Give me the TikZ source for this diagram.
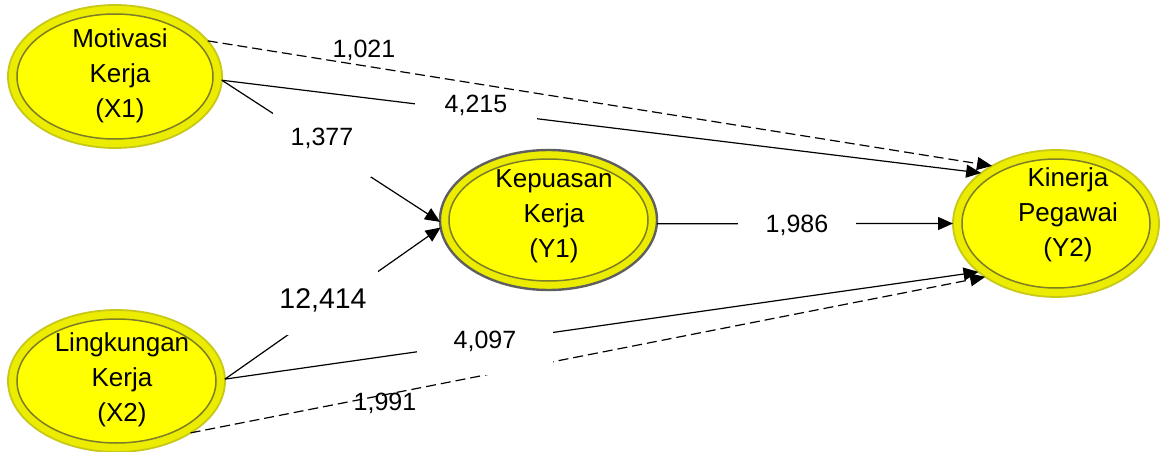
\documentclass[tikz,border=0pt]{standalone}
\usepackage{fontspec}
\setmainfont{Liberation Sans}
\usetikzlibrary{shapes.geometric,arrows.meta}

\definecolor{rimcol}{RGB}{200,200,25}
\definecolor{ringcol}{RGB}{236,236,0}
\definecolor{corecol}{RGB}{255,255,0}
\definecolor{innercol}{RGB}{125,125,40}
\definecolor{shadowcol}{RGB}{95,95,95}

\tikzset{
  outerov/.style={ellipse, draw=rimcol, line width=1.8pt, fill=ringcol,
    inner sep=0pt, outer sep=0pt},
  innerov/.style={ellipse, draw=innercol, line width=1.5pt, fill=corecol,
    inner sep=0pt, outer sep=0pt},
  nodetxt/.style={font=\fontsize{26}{35}\selectfont, align=center,
    inner sep=0pt},
  numlbl/.style={font=\fontsize{25}{30}\selectfont, anchor=base,
    inner sep=0pt},
  maskbox/.style={numlbl, fill=white},
  arr/.style={-{Triangle[length=15pt,width=13pt]}, line width=1.2pt},
  darr/.style={arr, dash pattern=on 10pt off 5pt}
}

\begin{document}
\begin{tikzpicture}[x=1pt,y=-1pt]
\useasboundingbox (0,0) rectangle (1160,452);

% latent variables: outer ring and inner face
\node[outerov, minimum width=214pt, minimum height=143pt] (x1) at (115,76.5) {};
\node[innerov, minimum width=196pt, minimum height=125pt] (x1in) at (115,76.5) {};

\node[outerov, draw=shadowcol, line width=2.4pt,
      minimum width=217pt, minimum height=140pt] (y1) at (548.5,220) {};
\node[innerov, minimum width=199pt, minimum height=122pt] (y1in) at (548.5,220) {};

\node[outerov, minimum width=206pt, minimum height=147pt] (y2) at (1056,223.5) {};
\node[innerov, minimum width=188pt, minimum height=129pt] (y2in) at (1056,223.5) {};

\node[outerov, minimum width=217pt, minimum height=142pt] (x2) at (116.5,381) {};
\node[innerov, minimum width=199pt, minimum height=124pt] (x2in) at (116.5,381) {};

% paths
\draw[arr] (x1.-2) -- (y1.181);
\draw[arr] (x2.1) -- (y1.184.5);
\draw[arr] (x1.-2) -- (y2.146);
\draw[arr] (x2.1) -- (y2.212);
\draw[darr] (x2.-35) -- (y2.217);
\draw[arr] (y1.-2) -- (y2.180);

% coefficients on white boxes
\node[maskbox, minimum width=98pt, text height=35pt, text depth=31pt] (l1377) at (322,146) {1,377};
\node[maskbox, minimum width=122pt, text height=16pt, text depth=9pt] (l4215) at (476,113) {4,215};
\node[maskbox, font=\fontsize{28.5}{32}\selectfont, minimum width=110pt,
      text height=39pt, text depth=27pt] (l12414) at (323,308) {12,414};
\node[maskbox, minimum width=136pt, text height=20pt, text depth=27pt] (l4097) at (485,348) {4,097};
\node[maskbox, minimum width=118pt, text height=20pt, text depth=8pt] (l1986) at (797,232) {1,986};

% dashed path drawn over the boxes
\draw[darr] (x1.21) -- (y2.138);

\node[numlbl] (l1021) at (364,58) {1,021};
\node[numlbl] (l1991) at (385,410) {1,991};

% variable names
\node[nodetxt] (x1t) at (120,75.5) {Motivasi\\Kerja\\(X1)};
\node[nodetxt] (y1t) at (554,216.5) {Kepuasan\\Kerja\\(Y1)};
\node[nodetxt] (y2t) at (1068,215) {Kinerja\\Pegawai\\(Y2)};
\node[nodetxt] (x2t) at (122,380) {Lingkungan\\Kerja\\(X2)};
\end{tikzpicture}
\end{document}
